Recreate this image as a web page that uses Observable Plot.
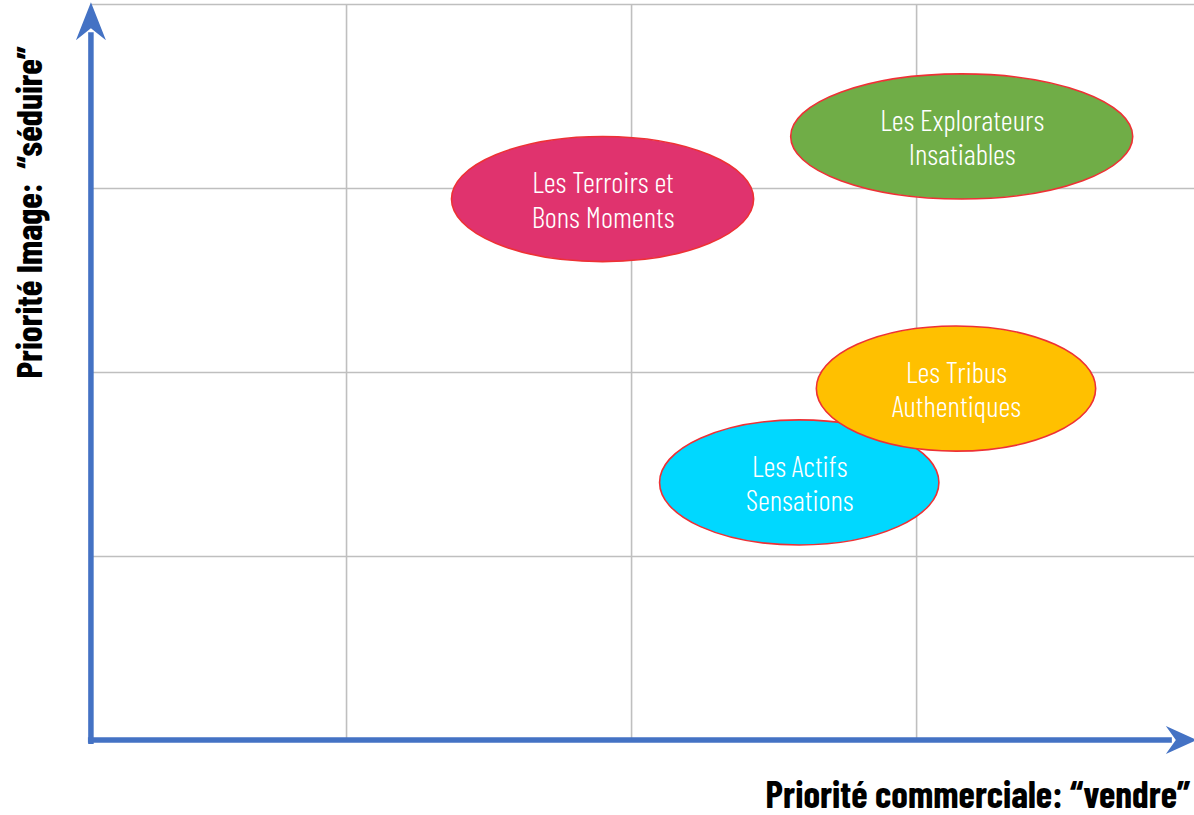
<!DOCTYPE html>
<html><head><meta charset="utf-8">
<script src="https://cdn.jsdelivr.net/npm/d3@7"></script>
<script src="https://cdn.jsdelivr.net/npm/@observablehq/plot@0.6"></script>
<style>
body{margin:0;background:#fff;overflow:hidden}
#chart svg{display:block}
</style>
</head><body><div id="chart"></div>
<script>
// Data
const segments = ["Les Terroirs et\nBons Moments", "Les Explorateurs\nInsatiables", "Les Actifs\nSensations", "Les Tribus\nAuthentiques"];
const xValues = [1.90, 3.16, 2.59, 3.14];   // Priorité commerciale
const yValues = [2.94, 3.28, 1.40, 1.91];   // Priorité image
const xSpread = [0.53, 0.60, 0.49, 0.49];
const ySpread = [0.34, 0.34, 0.34, 0.34];
const gridX = [1, 2, 3];
const gridY = [1, 2, 3, 4];
const xTitle = "Priorité commerciale: “vendre”";
const yTitle = "Priorité Image:  “séduire”";

const palette = ["#E0336E", "#70AD47", "#00D8FF", "#FFC000"];
const data = segments.map((name, i) => ({name, x: xValues[i], y: yValues[i], rx: xSpread[i], ry: ySpread[i], fill: palette[i]}));

const xOrigin = 0.105, xEnd = 3.985, yOrigin = 0, yEnd = 4.01;
const blue = "#4472C4";
const condensed = "'Barlow Condensed','Roboto Condensed','Liberation Sans Narrow','DejaVu Sans Condensed',sans-serif";

function ellipseMark(index, scales) {
  const g = d3.create("svg:g");
  for (const d of data) {
    const cx = scales.x(d.x), cy = scales.y(d.y);
    const rx = Math.abs(scales.x(d.x + d.rx) - cx);
    const ry = Math.abs(scales.y(d.y + d.ry) - cy);
    g.append("ellipse").attr("cx", cx).attr("cy", cy).attr("rx", rx).attr("ry", ry)
      .attr("fill", d.fill).attr("stroke", "#EE3135").attr("stroke-width", 1.6);
  }
  return g.node();
}

function axesMark(index, scales) {
  const g = d3.create("svg:g");
  const ox = scales.x(xOrigin), oy = scales.y(yOrigin);
  const tx = scales.x(xEnd), ty = scales.y(yEnd);
  g.append("line").attr("x1", ox).attr("x2", ox).attr("y1", oy + 4).attr("y2", ty + 30)
    .attr("stroke", blue).attr("stroke-width", 5.5);
  g.append("line").attr("x1", ox - 3).attr("x2", tx - 25).attr("y1", oy).attr("y2", oy)
    .attr("stroke", blue).attr("stroke-width", 5.5);
  g.append("path").attr("fill", blue)
    .attr("d", `M${ox},${ty} L${ox + 15},${ty + 38} L${ox},${ty + 26} L${ox - 15},${ty + 38} Z`);
  g.append("path").attr("fill", blue)
    .attr("d", `M${tx},${oy} L${tx - 31},${oy + 14} L${tx - 21},${oy} L${tx - 31},${oy - 14} Z`);
  return g.node();
}

const chart = Plot.plot({
  width: 1194,
  height: 815,
  x: {domain: [0, 3.975], range: [61, 1194], axis: null},
  y: {domain: [0, 4], range: [740, 4], axis: null},
  style: {fontFamily: condensed, background: "#fff", overflow: "visible"},
  marks: [
    Plot.ruleX(gridX, {y1: 0, y2: 4, stroke: "#BFBFBF", strokeWidth: 1.6, strokeOpacity: 1}),
    Plot.ruleY(gridY, {x1: xOrigin, x2: 3.975, stroke: "#BFBFBF", strokeWidth: 1.6, strokeOpacity: 1}),
    axesMark,
    ellipseMark,
    Plot.text(data, {x: "x", y: "y", text: "name", fill: "white", fontSize: 29.5, lineHeight: 1.17, fontWeight: 300}),
    Plot.text([xTitle], {x: 3.96, y: -0.30, fontSize: 37.5, fontWeight: 700, fill: "#000", textAnchor: "end"}),
    Plot.text([yTitle], {x: -0.11, y: 2.87, rotate: -90, fontSize: 36, fontWeight: 700, fill: "#000"})
  ]
});
document.getElementById("chart").append(chart);
</script>
</body></html>
